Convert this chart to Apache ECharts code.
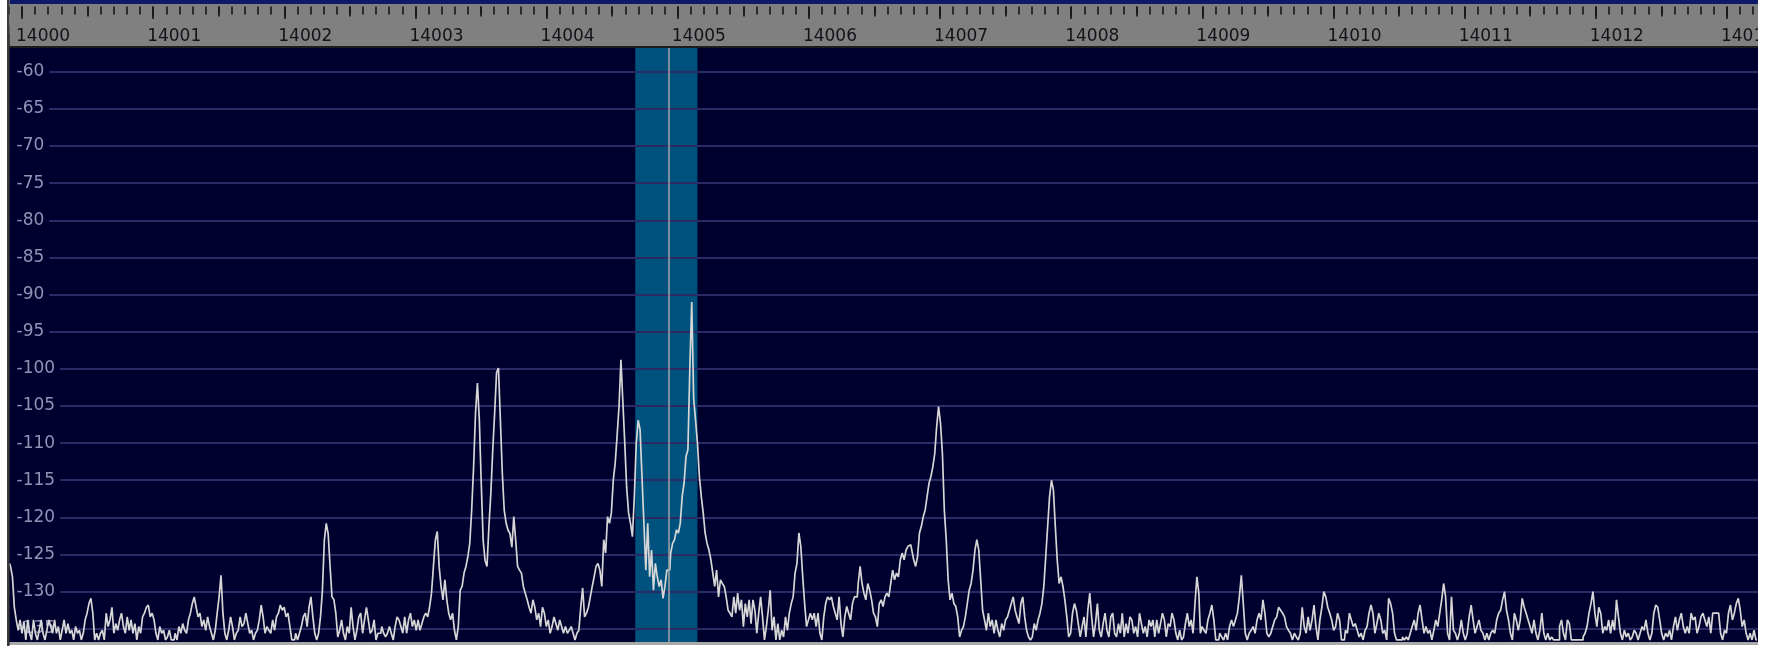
<!DOCTYPE html>
<html>
<head>
<meta charset="utf-8">
<script src="https://cdn.jsdelivr.net/npm/echarts@6/dist/echarts.min.js"></script>
<style>
html,body{margin:0;padding:0;background:#ffffff;}
#chart{width:1766px;height:646px;}
</style>
</head>
<body>
<div id="chart"></div>
<script>
// ---------------- DATA ----------------
// Spectrum bins, segment A: start frequency (kHz) and bin spacing (kHz)
const segAStart = 13999.9052;
const segAStep = 0.0145903;
// Levels (dB), 13999.905 .. 14004.40 kHz
const levelA1 = [
-126.2,-126.6,-128.0,-132.1,-133.8,-135.2,-133.8,-135.6,-134.0,-136.5,-133.8,-135.6,-136.5,-133.8,-135.6,-136.5,
-135.2,-133.8,-135.6,-136.5,-135.2,-133.8,-134.7,-135.6,-133.8,-135.6,-134.7,-136.5,-135.2,-133.8,-135.6,-134.3,-135.6,-135.2,-136.5,-134.7,
-135.6,-135.2,-136.5,-135.6,-133.8,-132.9,-131.6,-130.9,-132.9,-136.5,-135.6,-136.5,-135.6,-135.2,-136.5,-132.9,-134.7,-133.8,-132.1,-135.6,
-134.3,-135.2,-133.8,-132.9,-134.7,-135.6,-133.4,-135.2,-133.8,-135.6,-134.3,-136.5,-134.7,-135.6,-133.4,-132.9,-132.1,-131.8,-133.4,-132.9,
-133.8,-135.6,-136.5,-134.7,-135.6,-135.2,-136.5,-136.1,-135.2,-136.5,-136.5,-135.6,-136.5,-134.7,-135.6,-134.3,-135.2,-135.6,-133.8,-132.9,
-131.6,-130.7,-132.1,-133.4,-132.9,-134.7,-133.8,-135.2,-133.4,-134.7,-135.6,-136.5,-135.2,-132.9,-130.7,-127.8,-132.9,-135.6,-136.5,-135.2,
-133.4,-134.7,-136.5,-135.6,-135.2,-133.4,-134.7,-134.3,-132.9,-134.3,-135.6,-135.2,-136.5,-135.6,-135.2,-133.8,-131.8,-133.4,-135.6,-134.7,
-135.2,-135.6,-133.8,-135.2,-133.4,-132.9,-131.8,-132.5,-132.1,-133.4,-132.9,-134.7,-136.5,-136.5,-135.6,-136.5,-135.6,-134.7,-133.4,-132.9,
-134.7,-132.1,-130.7,-133.4,-135.6,-136.5,-135.6,-133.4,-129.8,-123.1,-120.8,-122.2,-126.6,-130.7,-131.1,-132.9,-136.1,-135.2,-133.8,-135.6,
-136.5,-134.7,-135.6,-132.1,-134.7,-136.5,-135.2,-133.4,-132.9,-135.6,-133.8,-132.1,-133.8,-135.6,-135.2,-133.8,-136.5,-135.6,-135.6,-134.7,
-135.6,-136.1,-135.6,-134.7,-135.6,-136.5,-134.7,-133.4,-133.8,-134.7,-135.6,-133.4,-135.6,-133.8,-132.9,-134.7,-133.8,-135.2,-133.8,-135.2,
-134.3,-133.4,-132.9,-133.4,-132.1,-130.2,-126.6,-123.1,-121.9,-126.6,-129.3,-131.1,-128.4,-131.1,-132.9,-133.8,-132.9,-135.2,-136.5,-134.7,
-129.8,-129.3,-127.5,-126.6,-125.3,-123.5,-119.0,-113.2,-106.0,-101.9,-106.9,-115.4,-123.1,-125.8,-126.6,-121.3,-116.8,-111.0,-106.0,-100.5,
-99.9,-106.9,-114.0,-119.0,-120.8,-121.7,-122.2,-124.0,-119.9,-123.1,-126.6,-127.1,-127.5,-129.3,-130.2,-131.1,-132.1,-132.9,-131.1,-132.1,
-133.8,-132.9,-134.7,-132.1,-132.9,-134.7,-133.8,-135.6,-134.7,-133.4,-134.3,-135.2,-133.8,-134.7,-135.6,-134.7,-135.6,-135.2,-134.7,-135.6,
-136.5,-135.6,-135.2,-132.1,-129.5,-133.4,-132.9,-132.1,-130.7,-129.3,-128.0,-126.6,-126.2
];
// Levels (dB), 14004.41 .. 14008.98 kHz (continues segment A)
const levelA2 = [
-127.1,-129.3,-123.0,-124.8,-119.9,-120.8,-119.4,-115.0,-112.7,-109.0,-105.1,-98.8,-104.4,-110.0,-116.0,-119.4,-120.8,-122.6,-117.2,-110.0,
-106.9,-108.2,-114.5,-120.8,-127.1,-120.8,-128.0,-124.4,-129.8,-126.2,-128.0,-129.3,-128.4,-130.9,-129.3,-127.1,-127.1,-124.8,-123.5,-123.0,
-121.7,-122.1,-120.8,-117.2,-115.4,-111.8,-110.9,-100.0,-91.0,-104.0,-106.9,-110.0,-114.5,-117.2,-119.4,-122.1,-123.5,-124.4,-125.7,-127.5,
-129.3,-127.1,-130.7,-128.4,-128.9,-129.3,-130.7,-132.5,-132.9,-133.4,-130.7,-132.9,-130.2,-132.5,-131.1,-134.7,-131.6,-133.4,-131.1,-134.3,
-131.1,-132.5,-135.6,-132.9,-130.7,-133.4,-136.5,-134.7,-132.5,-129.8,-135.2,-133.4,-136.5,-134.3,-136.5,-135.2,-136.1,-133.4,-135.2,-132.9,
-131.6,-130.7,-127.5,-126.2,-122.1,-123.9,-128.0,-131.6,-134.7,-133.8,-132.9,-133.8,-132.9,-134.7,-132.9,-135.6,-136.5,-133.4,-131.6,-130.7,
-131.1,-130.7,-132.0,-132.9,-133.8,-130.7,-134.3,-136.1,-133.4,-132.0,-132.9,-133.8,-131.6,-130.7,-130.7,-128.9,-126.6,-128.9,-130.2,-131.1,
-128.9,-129.8,-131.1,-132.9,-133.4,-134.7,-131.6,-131.1,-132.0,-130.7,-130.2,-130.7,-128.9,-127.1,-128.4,-127.5,-128.0,-125.7,-124.8,-125.7,
-124.4,-123.9,-123.7,-124.4,-125.7,-126.6,-125.3,-122.1,-121.2,-119.9,-119.0,-117.2,-115.4,-114.5,-113.2,-111.4,-107.8,-105.1,-107.3,-111.4,
-119.0,-123.0,-128.4,-131.1,-130.2,-131.6,-132.0,-133.4,-136.1,-135.2,-134.7,-133.4,-131.6,-129.8,-128.9,-127.1,-124.4,-123.0,-124.4,-128.4,
-132.5,-133.8,-135.2,-132.9,-134.7,-133.8,-135.6,-133.8,-135.2,-136.1,-134.3,-135.2,-133.8,-133.4,-132.5,-131.6,-130.7,-132.5,-133.4,-134.3,
-131.6,-130.7,-133.4,-135.2,-136.1,-136.5,-136.1,-134.3,-135.2,-133.8,-132.9,-131.6,-129.3,-125.3,-121.2,-117.2,-115.0,-116.3,-121.2,-125.7,
-128.9,-128.0,-129.3,-131.1,-133.4,-136.1,-135.6,-132.9,-131.6,-132.5,-134.3,-136.1,-134.7,-133.4,-136.1,-132.5,-130.2,-133.4,-136.1,-134.3,
-131.6,-135.2,-136.1,-134.3,-132.9,-135.2,-136.1,-133.4,-132.9,-135.6,-136.1,-134.3,-135.6,-132.9,-136.1,-134.3,-135.6,-133.4,-133.8,-135.6,
-134.7,-136.1,-132.9,-134.3,-135.6,-134.7,-136.1,-133.8,-134.7,-133.8,-136.1,-133.8,-135.6,-134.3,-132.9,-133.8,-136.1,-134.3,-134.7,-132.9,
-133.8,-135.6,-136.5,-135.2,-136.5,-136.1,-134.3,-132.9,-134.7,-133.8,-135.6,-131.6,-128.0,-130.2
];
// Spectrum bins, segment B
const segBStart = 14008.9902;
const segBStep = 0.014977;
// Levels (dB), 14008.99 .. 14013.24 kHz
const levelB = [
-135.6,-134.7,-135.2,-135.6,-133.8,-132.9,-131.8,-133.8,-136.5,-136.5,-135.6,-136.1,-136.5,-135.6,-136.5,-134.7,-133.8,-134.7,-133.8,-132.9,
-130.7,-127.8,-131.6,-135.6,-136.5,-135.6,-135.2,-134.7,-135.6,-133.8,-132.9,-133.8,-131.1,-132.9,-135.6,-136.1,-135.6,-134.7,-133.8,-133.4,
-132.1,-132.5,-132.9,-133.4,-134.7,-135.2,-135.6,-136.5,-135.6,-136.1,-136.5,-135.6,-132.1,-134.7,-135.6,-133.4,-135.2,-133.8,-131.8,-134.7,
-136.5,-133.8,-132.1,-130.0,-130.7,-132.1,-132.9,-133.8,-135.2,-134.7,-132.9,-133.8,-136.5,-136.5,-135.2,-135.6,-132.9,-133.8,-134.7,-134.3,
-135.2,-136.1,-135.6,-136.5,-135.2,-134.7,-132.9,-131.8,-132.9,-135.6,-134.3,-132.9,-133.8,-135.6,-135.2,-136.5,-130.9,-131.6,-132.9,-135.6,
-136.5,-136.5,-136.5,-136.1,-136.5,-136.1,-136.5,-135.6,-134.7,-133.8,-135.2,-132.9,-131.8,-133.8,-135.6,-134.7,-135.6,-135.2,-136.5,-135.2,
-133.8,-134.7,-132.9,-131.1,-128.9,-130.7,-135.6,-136.5,-130.7,-135.2,-135.6,-136.5,-135.6,-133.8,-135.6,-136.5,-135.6,-133.4,-131.8,-133.8,
-135.6,-134.7,-133.8,-135.2,-135.6,-136.5,-135.6,-136.5,-135.6,-135.2,-135.6,-133.8,-132.9,-132.5,-131.1,-130.0,-132.5,-133.8,-135.6,-136.5,
-132.9,-133.8,-135.2,-133.8,-130.9,-132.1,-132.9,-133.8,-134.7,-135.6,-133.8,-135.6,-136.5,-135.2,-132.9,-135.6,-136.5,-135.6,-136.5,-136.1,
-136.5,-136.5,-136.5,-134.7,-133.8,-135.6,-136.5,-133.8,-134.3,-136.5,-136.5,-136.5,-136.5,-136.5,-136.5,-136.1,-135.6,-134.7,-132.9,-131.6,
-130.0,-132.9,-134.7,-132.1,-132.9,-135.6,-134.7,-135.2,-133.8,-135.6,-133.8,-135.2,-131.1,-133.4,-135.6,-136.5,-135.2,-136.1,-135.6,-136.5,
-136.1,-135.2,-135.6,-136.5,-135.6,-134.7,-135.2,-133.8,-135.6,-136.5,-135.6,-132.9,-131.8,-132.1,-133.8,-135.6,-136.5,-135.6,-136.1,-135.2,
-136.5,-134.7,-133.4,-135.2,-133.8,-132.9,-134.7,-135.6,-134.7,-135.6,-132.9,-133.8,-133.4,-135.6,-134.7,-133.4,-132.9,-133.8,-134.7,-133.4,
-135.6,-132.9,-132.9,-132.9,-132.9,-135.6,-136.5,-135.2,-135.6,-132.9,-131.8,-133.8,-132.9,-131.6,-130.9,-132.5,-134.7,-133.8,-135.6,-136.5,
-135.6,-136.5,-135.2,-136.5
];
// Receiver passband edges and tuned frequency (kHz)
const passband = [14004.676, 14005.150];
const tuneFreq = 14004.935;
// Axis ranges
const freqMin = 13999, freqMax = 14014;
const dbMin = -140, dbMax = -55, dbStep = 5;

// ---------------- LAYOUT ----------------
const W = 1766, H = 646;
const X14000 = 22, PX_PER_KHZ = 131.15;      // horizontal scale
const Y_M60 = 71.7, PX_PER_DB = 7.428;         // vertical scale
const xOf = f => X14000 + (f - 14000) * PX_PER_KHZ;
const yOf = d => Y_M60 + (-60 - d) * PX_PER_DB;
const gLeft = xOf(freqMin), gRight = W - xOf(freqMax);
const gTop = yOf(dbMax), gBottom = H - yOf(dbMin);
const plotL = 9.5, plotR = 1758, plotT = 48, plotB = 642;
const FONT = 'DejaVu Sans';
const NAVY = '#00002e';
const RULER_TOP = 6.5;

const trace = [];
levelA1.concat(levelA2).forEach((v, i) => trace.push([segAStart + i * segAStep, v]));
levelB.forEach((v, i) => trace.push([segBStart + i * segBStep, v]));

const chart = echarts.init(document.getElementById('chart'), null, {renderer: 'canvas', width: W, height: H});
const tickColor = '#161616';
const noBounds = {outerBoundsMode: 'none', containLabel: false};
const hiddenLine = {show: false, onZero: false};
chart.setOption({
  animation: false,
  backgroundColor: '#ffffff',
  grid: [
    Object.assign({left: gLeft, right: gRight, top: gTop, bottom: gBottom, show: true, backgroundColor: NAVY, borderWidth: 0, z: 0}, noBounds),
    Object.assign({left: plotL, right: W - plotR, top: gTop, bottom: gBottom}, noBounds),
    Object.assign({left: gLeft, right: gRight, top: RULER_TOP, height: 36}, noBounds),
    Object.assign({left: gLeft, right: gRight, top: RULER_TOP, height: 36}, noBounds),
    Object.assign({left: gLeft - 6, right: gRight + 6, top: 36.5, height: 6}, noBounds)
  ],
  xAxis: [
    {gridIndex: 0, type: 'value', min: freqMin, max: freqMax, show: false},
    {gridIndex: 1, type: 'value', min: 0, max: 1, show: false},
    {gridIndex: 2, type: 'value', min: freqMin, max: freqMax, interval: 1, position: 'top', z: 11,
      axisLine: hiddenLine, axisLabel: {show: false}, splitLine: {show: false}, minorSplitLine: {show: false},
      axisTick: {show: true, inside: true, length: 12.5, lineStyle: {color: tickColor, width: 1.6}},
      minorTick: {show: true, splitNumber: 10, length: 8, lineStyle: {color: tickColor, width: 1.6}}},
    {gridIndex: 3, type: 'value', min: freqMin, max: freqMax, interval: 0.5, position: 'top', z: 11,
      axisLine: hiddenLine, axisLabel: {show: false}, splitLine: {show: false},
      axisTick: {show: true, inside: true, length: 10, lineStyle: {color: tickColor, width: 1.6}}},
    {gridIndex: 4, type: 'value', min: freqMin, max: freqMax, interval: 1, position: 'top', z: 11,
      axisLine: hiddenLine, axisTick: {show: false}, splitLine: {show: false},
      axisLabel: {show: true, inside: true, margin: 0, align: 'left', verticalAlign: 'middle',
        color: '#121218', fontFamily: FONT, fontSize: 17, formatter: v => String(Math.round(v))}}
  ],
  yAxis: [
    {gridIndex: 0, type: 'value', min: dbMin, max: dbMax, interval: dbStep, z: 2,
      axisLine: hiddenLine, axisTick: {show: false}, axisLabel: {show: false},
      splitLine: {show: true, lineStyle: {color: '#2a2a66', width: 2}}},
    {gridIndex: 1, type: 'value', min: dbMin, max: dbMax, interval: dbStep, z: 3,
      axisLine: hiddenLine, axisTick: {show: false}, splitLine: {show: false},
      axisLabel: {show: true, inside: true, margin: 0, color: '#9193b5', fontFamily: FONT, fontSize: 17,
        backgroundColor: NAVY, padding: [1, 5, 1, 7]}},
    {gridIndex: 2, type: 'value', min: 0, max: 1, show: false},
    {gridIndex: 3, type: 'value', min: 0, max: 1, show: false},
    {gridIndex: 4, type: 'value', min: 0, max: 1, show: false}
  ],
  series: [
    {type: 'line', xAxisIndex: 0, yAxisIndex: 0, z: 1, silent: true, symbol: 'none',
      data: [[tuneFreq, -200]], lineStyle: {opacity: 0},
      markArea: {silent: true, itemStyle: {color: '#00527e', opacity: 1},
        data: [[{xAxis: passband[0]}, {xAxis: passband[1]}]]}},
    {type: 'line', xAxisIndex: 0, yAxisIndex: 0, z: 4, silent: true, symbol: 'none', step: 'middle',
      data: trace, lineStyle: {color: '#d6d6d6', width: 1.7},
      markLine: {silent: true, symbol: 'none', label: {show: false},
        lineStyle: {color: '#a4a4a4', width: 1.5, type: 'solid'}, data: [{xAxis: tuneFreq}]}}
  ],
  graphic: {elements: [
    {type: 'rect', silent: true, z: 10, shape: {x: plotL, y: 0, width: plotR - plotL, height: 4}, style: {fill: '#0c1a68'}},
    {type: 'rect', silent: true, z: 10, shape: {x: plotL, y: 4, width: plotR - plotL, height: 42}, style: {fill: '#808080'}},
    {type: 'rect', silent: true, z: 10, shape: {x: plotL, y: 46, width: plotR - plotL, height: plotT - 46}, style: {fill: '#1c1c1c'}},
    {type: 'rect', silent: true, z: 10, shape: {x: plotL, y: plotB, width: plotR - plotL, height: 3}, style: {fill: '#a9a9a9'}},
    {type: 'rect', silent: true, z: 20, shape: {x: 0, y: plotB + 3, width: W, height: H - plotB - 3}, style: {fill: '#ffffff'}},
    {type: 'rect', silent: true, z: 20, shape: {x: 0, y: 0, width: 7, height: H}, style: {fill: '#ffffff'}},
    {type: 'rect', silent: true, z: 20, shape: {x: 7, y: 0, width: plotL - 7, height: H}, style: {fill: '#3a3a3a'}},
    {type: 'rect', silent: true, z: 20, shape: {x: plotR, y: 0, width: W - plotR, height: H}, style: {fill: '#ffffff'}}
  ]}
});
</script>
</body>
</html>
